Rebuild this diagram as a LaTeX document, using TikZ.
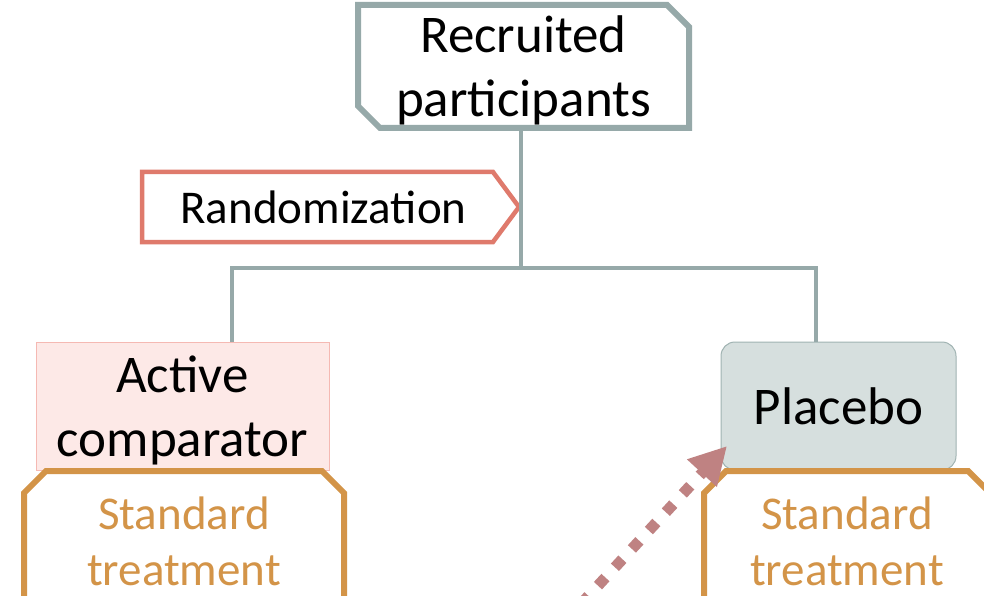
\documentclass[tikz,border=0pt]{standalone}
\usepackage{fontspec}
\setmainfont{Carlito}
\usetikzlibrary{arrows.meta}
\definecolor{treecol}{HTML}{96A9A9}
\definecolor{randcol}{HTML}{DF7A6C}
\definecolor{stdcol}{HTML}{D39448}
\definecolor{arrcol}{HTML}{BF8282}
\definecolor{actfill}{HTML}{FDE9E7}
\definecolor{actdraw}{HTML}{F5B9B3}
\definecolor{plafill}{HTML}{D6DFDE}
\definecolor{pladraw}{HTML}{A0B3B2}
\tikzset{
  bigtext/.style={font=\fontsize{53}{64}\selectfont, align=center, text=black},
  midtext/.style={font=\fontsize{47}{56}\selectfont, align=center},
  treeline/.style={draw=treecol, line width=4.5pt},
  boxframe/.style={line width=6pt, line join=miter},
}
\begin{document}
\begin{tikzpicture}[x=1pt,y=-1pt]
\useasboundingbox (0,0) rectangle (984,596);
\clip (0,0) rectangle (984,596);
\fill[white] (0,0) rectangle (984,596);
% Recruited participants
\draw[boxframe, draw=treecol, fill=white] (358,5) -- (667,5) -- (689,27) -- (689,128) -- (380,128) -- (358,106) -- cycle;
\node[minimum width=331pt, minimum height=123pt, inner sep=0pt] (rec) at (523.5,66.5) {};
\node[bigtext] (rectext) at (523.5,70) {Recruited\\participants};
% Randomization
\draw[draw=randcol, line width=4.5pt, fill=white, line join=miter] (142,172) -- (493,172) -- (519,207) -- (493,242) -- (142,242) -- cycle;
\node[font=\fontsize{47}{58}\selectfont] (rand) at (323.5,207) {Randomization};
% tree
\coordinate (split) at (521,268);
\coordinate (lcorner) at (232,268);
\coordinate (rcorner) at (816,268);
% Active comparator
\node[rectangle, fill=actfill, draw=actdraw, line width=1pt, minimum width=293pt, minimum height=128pt, inner sep=0pt] (act) at (182.5,406) {};
\node[bigtext] (acttext) at (182.5,410) {Active\\comparator};
% Placebo
\node[rectangle, rounded corners=14pt, fill=plafill, draw=pladraw, line width=1pt, minimum width=235pt, minimum height=128pt, inner sep=0pt, bigtext] (pla) at (838.5,406) {Placebo};
\draw[treeline] (rec.south -| split) -- (split);
\draw[treeline, line cap=rect] (lcorner) -- (rcorner);
\draw[treeline] (lcorner) -- (act.north -| lcorner);
\draw[treeline] (rcorner) -- (pla.north -| rcorner);
% Standard treatment boxes
\draw[boxframe, draw=stdcol, fill=white] (24,660) -- (24,493) -- (46,471) -- (322,471) -- (344,493) -- (344,660);
\node[midtext, text=stdcol] (stdl) at (184,541) {Standard\\treatment};
\draw[boxframe, draw=stdcol, fill=white] (704,660) -- (704,493) -- (726,471) -- (968,471) -- (990,493) -- (990,660);
\node[midtext, text=stdcol] (stdr) at (847,541) {Standard\\treatment};
% dotted arrow
\coordinate (arrstart) at (581,604);
\coordinate (arrtip) at (727,446);
\draw[draw=arrcol, line width=11pt, dash pattern=on 11pt off 14pt, -{Triangle[length=37pt,width=38pt,fill=arrcol]}] (arrstart) -- (arrtip);
\end{tikzpicture}
\end{document}
